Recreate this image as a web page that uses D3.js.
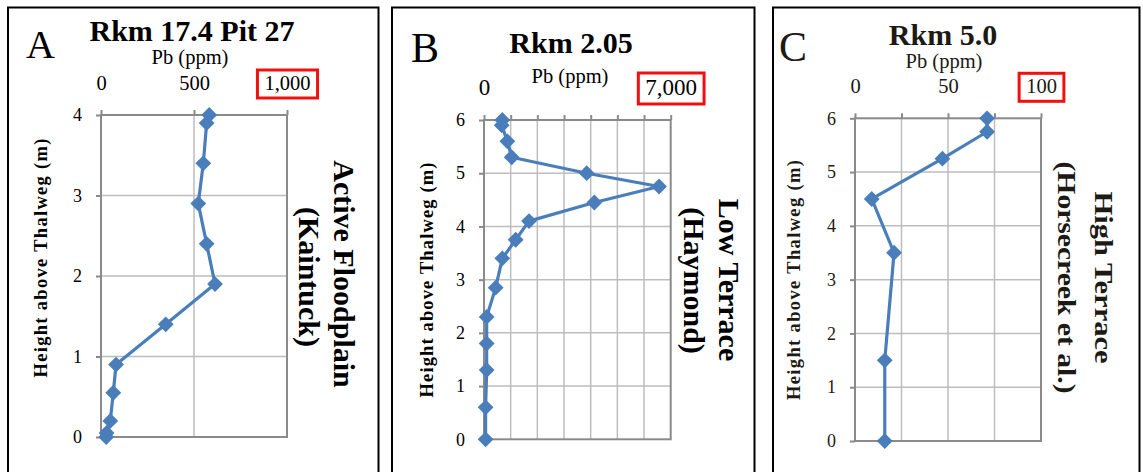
<!DOCTYPE html>
<html>
<head>
<meta charset="utf-8">
<script src="https://cdn.jsdelivr.net/npm/d3@7"></script>
<style>
  body { margin: 0; background: #fff; }
  svg { display: block; }
  svg text { font-family: "Liberation Serif", "Times New Roman", serif; }
</style>
</head>
<body>
<div id="chart"></div>
<script>
// Panel A: Rkm 17.4 Pit 27 (Active Floodplain)
const aHeight = [0.0, 0.05, 0.2, 0.55, 0.9, 1.4, 1.9, 2.4, 2.9, 3.4, 3.9, 4.0];
const aPb = [28, 30, 50, 66, 81, 348, 613, 568, 523, 550, 568, 582];
const aXTicks = [0, 500, 1000];
const aXLabels = [0, 500, 1000];
const aYTicks = [0, 1, 2, 3, 4];

// Panel B: Rkm 2.05 (Low Terrace)
const bHeight = [0, 0.6, 1.3, 1.8, 2.3, 2.85, 3.4, 3.75, 4.1, 4.45, 4.75, 5.0, 5.3, 5.6, 5.9, 6.0];
const bPb = [60, 60, 100, 100, 100, 438, 687, 1188, 1688, 4137, 6563, 3850, 1038, 875, 664, 686];
const bXTicks = [0, 1000, 2000, 3000, 4000, 5000, 6000, 7000];
const bXLabels = [0, 7000];
const bYTicks = [0, 1, 2, 3, 4, 5, 6];

// Panel C: Rkm 5.0 (High Terrace)
const cHeight = [0, 1.5, 3.5, 4.5, 5.25, 5.75, 6.0];
const cPb = [16, 16, 21, 9, 47, 71, 71];
const cXTicks = [0, 25, 50, 75, 100];
const cXLabels = [0, 50, 100];
const cYTicks = [0, 1, 2, 3, 4, 5, 6];

const LINE_COLOR = '#4a7ebb';
const SERIF = '"Liberation Serif", "Times New Roman", serif';
const fmt = d3.format(',');

const svg = d3.select('#chart').append('svg')
  .attr('width', 1143)
  .attr('height', 472);

const panels = [
  {
    letter: 'A', title: 'Rkm 17.4 Pit 27', side: ['Active Floodplain', '(Kaintuck)'],
    height: aHeight, pb: aPb, xTicks: aXTicks, xLabels: aXLabels, yTicks: aYTicks,
    box: [8, 378.5], plot: { left: 101, right: 287, top: 115, bottom: 437 },
    letterPos: [26, 58, 40], titlePos: [192, 41], pbPos: [190, 64],
    yTitle: [47, 258, 239], sidePos: [[334, 274], [298.5, 277]], sideSize: 30, sideLen: null,
    tickFont: 20.5, color: '#000'
  },
  {
    letter: 'B', title: 'Rkm 2.05', side: ['Low Terrace', '(Haymond)'],
    height: bHeight, pb: bPb, xTicks: bXTicks, xLabels: bXLabels, yTicks: bYTicks,
    box: [392, 754.5], plot: { left: 484, right: 670.7, top: 120, bottom: 439.3 },
    letterPos: [411, 61.5, 42], titlePos: [571, 53], pbPos: [570, 82.5],
    yTitle: [433, 280, 235], sidePos: [[718.5, 280], [684, 280.5]], sideSize: 30, sideLen: null,
    tickFont: 23, color: '#000'
  },
  {
    letter: 'C', title: 'Rkm 5.0', side: ['High Terrace', '(Horsecreek et al.)'],
    height: cHeight, pb: cPb, xTicks: cXTicks, xLabels: cXLabels, yTicks: cYTicks,
    box: [773, 1139.5], plot: { left: 855, right: 1041, top: 118.3, bottom: 441 },
    letterPos: [779, 61, 42], titlePos: [943, 45], pbPos: [944, 67.5],
    yTitle: [800, 280, 240], sidePos: [[1095, 277.5], [1057.5, 277.5]], sideSize: 26, sideLen: [172, 232],
    tickFont: 20.5, color: '#1c1a14'
  }
];

panels.forEach(p => drawPanel(p));

function drawPanel(p) {
  const g = svg.append('g').attr('fill', p.color);
  const { left, right, top, bottom } = p.plot;

  // outer panel border (runs off the bottom of the picture)
  g.append('path')
    .attr('d', `M${p.box[0]},480 V7.5 H${p.box[1]} V480`)
    .attr('fill', 'none')
    .attr('stroke', '#000')
    .attr('stroke-width', 2);

  const x = d3.scaleLinear()
    .domain([p.xTicks[0], p.xTicks[p.xTicks.length - 1]])
    .range([left, right]);
  const y = d3.scaleLinear()
    .domain([p.yTicks[0], p.yTicks[p.yTicks.length - 1]])
    .range([bottom, top]);

  // gridlines
  g.append('g').selectAll('line')
    .data(p.xTicks.slice(1, -1))
    .join('line')
    .attr('x1', d => x(d)).attr('x2', d => x(d))
    .attr('y1', top).attr('y2', bottom)
    .attr('stroke', '#bdbdbd').attr('stroke-width', 1.5);
  g.append('g').selectAll('line')
    .data(p.yTicks.slice(1, -1))
    .join('line')
    .attr('x1', left).attr('x2', right)
    .attr('y1', d => y(d)).attr('y2', d => y(d))
    .attr('stroke', '#bdbdbd').attr('stroke-width', 1.5);

  // plot frame
  g.append('rect')
    .attr('x', left).attr('y', top)
    .attr('width', right - left).attr('height', bottom - top)
    .attr('fill', 'none')
    .attr('stroke', '#8a8a8a').attr('stroke-width', 2);

  // top axis
  const xAxis = g.append('g')
    .attr('transform', `translate(0, ${top})`)
    .call(d3.axisTop(x)
      .tickValues(p.xTicks)
      .tickSize(5)
      .tickPadding(20)
      .tickFormat(d => p.xLabels.includes(d) ? fmt(d) : ''))
    .attr('font-family', SERIF)
    .attr('font-size', p.tickFont);
  xAxis.select('.domain').remove();
  xAxis.selectAll('.tick line').attr('stroke', '#8a8a8a').attr('stroke-width', 2);
  xAxis.selectAll('.tick text').attr('fill', p.color);

  // red box around the maximum label
  const maxLabel = p.xLabels[p.xLabels.length - 1];
  xAxis.selectAll('.tick').filter(d => d === maxLabel).each(function () {
    const bb = d3.select(this).select('text').node().getBBox();
    d3.select(this).append('rect')
      .attr('x', bb.x - 7).attr('y', bb.y - 2)
      .attr('width', bb.width + 14).attr('height', bb.height + 6)
      .attr('fill', 'none')
      .attr('stroke', '#f01010')
      .attr('stroke-width', 3);
  });

  // left axis
  const yAxis = g.append('g')
    .attr('transform', `translate(${left}, 0)`)
    .call(d3.axisLeft(y)
      .tickValues(p.yTicks)
      .tickSize(5)
      .tickPadding(14)
      .tickFormat(d3.format('d')))
    .attr('font-family', SERIF)
    .attr('font-size', 18);
  yAxis.select('.domain').remove();
  yAxis.selectAll('.tick line').attr('stroke', '#8a8a8a').attr('stroke-width', 2);
  yAxis.selectAll('.tick text').attr('fill', p.color);

  // data
  const pts = p.height.map((h, i) => ({ h, pb: p.pb[i] }));
  const line = d3.line().x(d => x(d.pb)).y(d => y(d.h));
  g.append('path')
    .datum(pts)
    .attr('d', line)
    .attr('fill', 'none')
    .attr('stroke', LINE_COLOR)
    .attr('stroke-width', 3.2)
    .attr('stroke-linejoin', 'round');
  g.append('g').selectAll('path')
    .data(pts)
    .join('path')
    .attr('d', d3.symbol(d3.symbolSquare, 125))
    .attr('transform', d => `translate(${x(d.pb)}, ${y(d.h)}) rotate(45)`)
    .attr('fill', LINE_COLOR);

  // texts
  g.append('text')
    .attr('x', p.letterPos[0]).attr('y', p.letterPos[1])
    .style('font-size', p.letterPos[2] + 'px')
    .text(p.letter);

  g.append('text')
    .attr('x', p.titlePos[0]).attr('y', p.titlePos[1])
    .attr('text-anchor', 'middle')
    .attr('font-weight', 700)
    .style('font-size', '30px')
    .text(p.title);

  g.append('text')
    .attr('x', p.pbPos[0]).attr('y', p.pbPos[1])
    .attr('text-anchor', 'middle')
    .style('font-size', '20.5px')
    .text('Pb (ppm)');

  g.append('text')
    .attr('transform', `translate(${p.yTitle[0]}, ${p.yTitle[1]}) rotate(-90)`)
    .attr('text-anchor', 'middle')
    .attr('font-weight', 700)
    .attr('textLength', p.yTitle[2])
    .attr('lengthAdjust', 'spacing')
    .style('font-size', '18.5px')
    .text('Height above Thalweg (m)');

  p.side.forEach((label, i) => {
    const t = g.append('text')
      .attr('transform', `translate(${p.sidePos[i][0]}, ${p.sidePos[i][1]}) rotate(90)`)
      .attr('text-anchor', 'middle')
      .attr('font-weight', 700)
      .style('font-size', p.sideSize + 'px')
      .text(label);
    if (p.sideLen) {
      t.attr('textLength', p.sideLen[i]).attr('lengthAdjust', 'spacingAndGlyphs');
    }
  });
}
</script>
</body>
</html>
